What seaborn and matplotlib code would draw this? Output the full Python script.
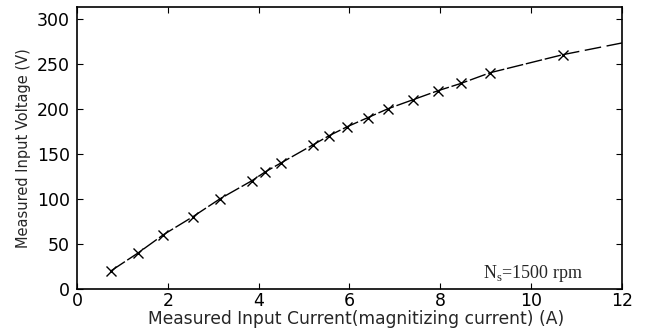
import matplotlib
matplotlib.use("Agg")
import matplotlib.pyplot as plt
from matplotlib import font_manager
import seaborn as sns
import pandas as pd

# measured points (A, V)
current = [0.75, 1.35, 1.9, 2.55, 3.15, 3.85, 4.15, 4.5, 5.2, 5.55, 5.95,
           6.4, 6.85, 7.4, 7.95, 8.45, 9.1, 10.7]
voltage = [20, 40, 60, 80, 100, 120, 130, 140, 160, 170, 180,
           190, 200, 210, 220, 228, 240, 260]
# extrapolated end of curve
ext_current = [10.7, 12.0]
ext_voltage = [260, 273]

xticks = [0, 2, 4, 6, 8, 10, 12]
yticks = [0, 50, 100, 150, 200, 250, 300]

sns.set_theme(style="ticks")
plt.rcParams["font.family"] = ["DejaVu Sans"]
plt.rcParams["xtick.direction"] = "in"
plt.rcParams["ytick.direction"] = "in"

# condensed face for the y label if one is around
names = {f.name for f in font_manager.fontManager.ttflist}
if "Liberation Sans Narrow" in names:
    ylab_font, ylab_size = "Liberation Sans Narrow", 12
elif "DejaVu Sans Condensed" in names:
    ylab_font, ylab_size = "DejaVu Sans Condensed", 11.5
else:
    ylab_font, ylab_size = "DejaVu Sans", 10.5

df = pd.DataFrame({"I": current, "V": voltage})
df_ext = pd.DataFrame({"I": ext_current, "V": ext_voltage})

fig = plt.figure(figsize=(6.52, 3.29), dpi=100)
ax = fig.add_axes([0.118, 0.122, 0.836, 0.857])

sns.lineplot(data=df, x="I", y="V", ax=ax, color="black", lw=1.0,
             marker="x", markersize=7, markeredgewidth=1.0,
             markeredgecolor="black", linestyle=(0, (12, 2)))
sns.lineplot(data=df_ext, x="I", y="V", ax=ax, color="black", lw=1.0,
             linestyle=(0, (12, 4)))

ax.set_xlim(0, 12)
ax.set_ylim(0, 313)
ax.set_xticks(xticks)
ax.set_yticks(yticks)
ax.tick_params(top=True, right=True, labelsize=12.5, length=4, width=0.8,
               colors="black")
ax.tick_params(axis="x", pad=2)
ax.tick_params(axis="y", pad=5)
for s in ax.spines.values():
    s.set_linewidth(1.2)
    s.set_color("black")

ax.set_xlabel("Measured Input Current(magnitizing current) (A)", fontsize=12.3,
              labelpad=0)
ax.xaxis.set_label_coords(0.512, -0.075)
ax.set_ylabel("Measured Input Voltage (V)", fontsize=ylab_size,
              family=ylab_font, labelpad=4)
ax.text(8.95, 12, r"N$_\mathregular{s}$=1500 rpm", fontsize=13,
        family=["Liberation Serif", "DejaVu Serif"])

plt.savefig("out.png", dpi=100)
plt.close()
